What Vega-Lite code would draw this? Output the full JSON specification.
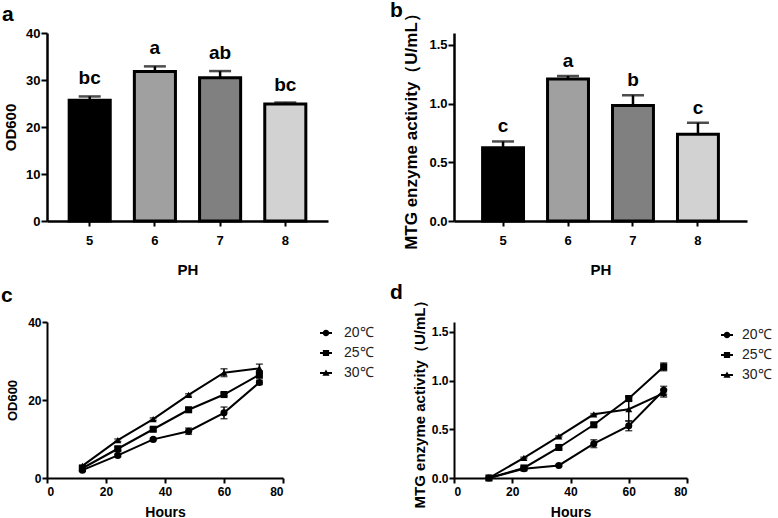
{
  "$schema": "https://vega.github.io/schema/vega-lite/v6.json",
  "padding": {"left": 1, "top": -1, "right": 0, "bottom": 0},
  "background": "white",
  "bounds": "flush",
  "align": "all",
  "columns": 2,
  "spacing": {"row": 101, "column": 114},
  "resolve": {"scale": {"shape": "independent"}, "legend": {"shape": "independent"}},
  "config": {
    "font": "Liberation Sans",
    "view": {"stroke": null},
    "axis": {
      "domainColor": "black", "tickColor": "black", "labelColor": "black", "titleColor": "black",
      "labelFont": "Liberation Sans", "titleFont": "Liberation Sans",
      "labelFontWeight": "bold", "titleFontWeight": "bold", "grid": false
    },
    "title": {"font": "Liberation Sans", "fontWeight": "bold", "color": "black"}
  },
  "datasets": {
    "od": [
      {"ph": "5", "v": 25.7, "hi": 26.5, "letter": "bc"},
      {"ph": "6", "v": 31.8, "hi": 32.9, "letter": "a"},
      {"ph": "7", "v": 30.5, "hi": 31.9, "letter": "ab"},
      {"ph": "8", "v": 24.9, "hi": 25.2, "letter": "bc"}
    ],
    "mtg": [
      {"ph": "5", "v": 0.624, "hi": 0.677, "letter": "c"},
      {"ph": "6", "v": 1.208, "hi": 1.234, "letter": "a"},
      {"ph": "7", "v": 0.982, "hi": 1.07, "letter": "b"},
      {"ph": "8", "v": 0.738, "hi": 0.836, "letter": "c"}
    ],
    "growth": [
      {"h": 12, "t": "20℃", "v": 2.0, "lo": 1.7, "hi": 2.3},
      {"h": 24, "t": "20℃", "v": 5.8, "lo": 5.5, "hi": 6.1},
      {"h": 36, "t": "20℃", "v": 9.9, "lo": 9.6, "hi": 10.2},
      {"h": 48, "t": "20℃", "v": 12.0, "lo": 11.2, "hi": 12.8},
      {"h": 60, "t": "20℃", "v": 16.7, "lo": 15.2, "hi": 18.2},
      {"h": 72, "t": "20℃", "v": 24.5, "lo": 24.0, "hi": 25.0},
      {"h": 12, "t": "25℃", "v": 2.5, "lo": 2.2, "hi": 2.8},
      {"h": 24, "t": "25℃", "v": 7.5, "lo": 7.1, "hi": 7.9},
      {"h": 36, "t": "25℃", "v": 12.5, "lo": 12.1, "hi": 12.9},
      {"h": 48, "t": "25℃", "v": 17.5, "lo": 17.1, "hi": 17.9},
      {"h": 60, "t": "25℃", "v": 21.4, "lo": 21.0, "hi": 21.8},
      {"h": 72, "t": "25℃", "v": 26.5, "lo": 25.5, "hi": 27.5},
      {"h": 12, "t": "30℃", "v": 3.1, "lo": 2.9, "hi": 3.3},
      {"h": 24, "t": "30℃", "v": 9.7, "lo": 9.4, "hi": 10.0},
      {"h": 36, "t": "30℃", "v": 15.1, "lo": 14.8, "hi": 15.4},
      {"h": 48, "t": "30℃", "v": 21.3, "lo": 21.0, "hi": 21.6},
      {"h": 60, "t": "30℃", "v": 27.0, "lo": 26.0, "hi": 28.0},
      {"h": 72, "t": "30℃", "v": 28.1, "lo": 27.0, "hi": 29.2}
    ],
    "activity": [
      {"h": 12, "t": "20℃", "v": 0.0, "lo": 0.0, "hi": 0.0},
      {"h": 24, "t": "20℃", "v": 0.094, "lo": 0.084, "hi": 0.104},
      {"h": 36, "t": "20℃", "v": 0.129, "lo": 0.119, "hi": 0.139},
      {"h": 48, "t": "20℃", "v": 0.352, "lo": 0.312, "hi": 0.392},
      {"h": 60, "t": "20℃", "v": 0.535, "lo": 0.485, "hi": 0.585},
      {"h": 72, "t": "20℃", "v": 0.9, "lo": 0.86, "hi": 0.94},
      {"h": 12, "t": "25℃", "v": 0.0, "lo": 0.0, "hi": 0.0},
      {"h": 24, "t": "25℃", "v": 0.103, "lo": 0.088, "hi": 0.118},
      {"h": 36, "t": "25℃", "v": 0.313, "lo": 0.298, "hi": 0.328},
      {"h": 48, "t": "25℃", "v": 0.546, "lo": 0.531, "hi": 0.561},
      {"h": 60, "t": "25℃", "v": 0.815, "lo": 0.795, "hi": 0.835},
      {"h": 72, "t": "25℃", "v": 1.14, "lo": 1.1, "hi": 1.18},
      {"h": 12, "t": "30℃", "v": 0.0, "lo": 0.0, "hi": 0.0},
      {"h": 24, "t": "30℃", "v": 0.207, "lo": 0.2, "hi": 0.214},
      {"h": 36, "t": "30℃", "v": 0.427, "lo": 0.42, "hi": 0.434},
      {"h": 48, "t": "30℃", "v": 0.653, "lo": 0.645, "hi": 0.661},
      {"h": 60, "t": "30℃", "v": 0.705, "lo": 0.585, "hi": 0.825},
      {"h": 72, "t": "30℃", "v": 0.87, "lo": 0.83, "hi": 0.91}
    ]
  },
  "concat": [
    {
      "width": 281, "height": 188,
      "title": {"text": "a", "anchor": "start", "frame": "group", "dx": -45, "fontSize": 21, "offset": 2},
      "data": {"name": "od"},
      "encoding": {
        "x": {"field": "ph", "type": "nominal", "sort": null,
          "scale": {"paddingInner": 0.37, "paddingOuter": 0.34},
          "axis": {"title": "PH", "labelAngle": 0, "labelFontSize": 13, "titleFontSize": 15, "domainWidth": 2.5, "tickWidth": 2, "tickSize": 5, "labelPadding": 8, "titlePadding": 15}}
      },
      "layer": [
        {"mark": {"type": "bar", "stroke": "black", "strokeWidth": 3},
         "encoding": {
           "y": {"field": "v", "type": "quantitative", "scale": {"domain": [0, 40]},
             "axis": {"title": "OD600", "values": [0, 10, 20, 30, 40], "labelFontSize": 13, "titleFontSize": 15, "domainWidth": 2.5, "tickWidth": 2, "tickSize": 6, "labelPadding": 1, "titlePadding": 7}},
           "color": {"field": "ph", "type": "nominal", "scale": {"domain": ["5", "6", "7", "8"], "range": ["#000000", "#a0a0a0", "#808080", "#d2d2d2"]}, "legend": null}
         }},
        {"mark": {"type": "rule", "color": "black", "strokeWidth": 2.5},
         "encoding": {"y": {"field": "v", "type": "quantitative"}, "y2": {"field": "hi"}}},
        {"mark": {"type": "tick", "color": "black", "thickness": 2.5, "size": 22, "orient": "horizontal"},
         "encoding": {"y": {"field": "hi", "type": "quantitative"}}},
        {"mark": {"type": "text", "fontSize": 19, "fontWeight": "bold", "baseline": "alphabetic", "dy": -12, "color": "black"},
         "encoding": {"y": {"field": "hi", "type": "quantitative"}, "text": {"field": "letter"}}}
      ]
    },
    {
      "width": 293, "height": 188,
      "title": {"text": "b", "anchor": "start", "frame": "group", "dx": -64, "dy": 24, "fontSize": 21, "offset": 8},
      "data": {"name": "mtg"},
      "encoding": {
        "x": {"field": "ph", "type": "nominal", "sort": null,
          "scale": {"paddingInner": 0.37, "paddingOuter": 0.44, "align": 0.5},
          "axis": {"title": "PH", "labelAngle": 0, "labelFontSize": 13, "titleFontSize": 15, "domainWidth": 2.5, "tickWidth": 2, "tickSize": 5, "labelPadding": 8, "titlePadding": 15}}
      },
      "layer": [
        {"mark": {"type": "bar", "stroke": "black", "strokeWidth": 3},
         "encoding": {
           "y": {"field": "v", "type": "quantitative", "scale": {"domain": [0, 1.5]},
             "axis": {"title": "MTG enzyme activity（U/mL）", "values": [0, 0.5, 1.0, 1.5], "format": ".1f", "labelFontSize": 13, "titleFontSize": 17, "domainWidth": 2.5, "tickWidth": 2, "tickSize": 6, "labelPadding": 1, "titlePadding": 8}},
           "color": {"field": "ph", "type": "nominal", "scale": {"domain": ["5", "6", "7", "8"], "range": ["#000000", "#a0a0a0", "#808080", "#d2d2d2"]}, "legend": null}
         }},
        {"mark": {"type": "rule", "color": "black", "strokeWidth": 2.5},
         "encoding": {"y": {"field": "v", "type": "quantitative"}, "y2": {"field": "hi"}}},
        {"mark": {"type": "tick", "color": "black", "thickness": 2.5, "size": 22, "orient": "horizontal"},
         "encoding": {"y": {"field": "hi", "type": "quantitative"}}},
        {"mark": {"type": "text", "fontSize": 19, "fontWeight": "bold", "baseline": "alphabetic", "dy": -9, "color": "black"},
         "encoding": {"y": {"field": "hi", "type": "quantitative"}, "text": {"field": "letter"}}}
      ]
    },
    {
      "width": 236, "height": 156,
      "title": {"text": "c", "anchor": "start", "frame": "group", "dx": -46, "fontSize": 21, "offset": 10},
      "data": {"name": "growth"},
      "resolve": {"scale": {"shape": "independent"}, "legend": {"shape": "independent"}},
      "encoding": {
        "x": {"field": "h", "type": "quantitative", "scale": {"domain": [0, 80]},
          "axis": {"title": "Hours", "values": [0, 20, 40, 60, 80], "labelFontSize": 12, "titleFontSize": 14, "domainWidth": 2, "tickWidth": 2, "tickSize": 5, "labelPadding": 3, "titlePadding": 8}}
      },
      "layer": [
        {"mark": {"type": "line", "color": "black", "strokeWidth": 2},
         "encoding": {"y": {"field": "v", "type": "quantitative", "scale": {"domain": [0, 40]},
             "axis": {"title": "OD600", "values": [0, 10, 20, 30, 40], "labelFontSize": 12, "titleFontSize": 13, "domainWidth": 2, "tickWidth": 2, "tickSize": 5, "labelPadding": 1, "titlePadding": 8}},
           "detail": {"field": "t"}}},
        {"mark": {"type": "rule", "color": "black", "strokeWidth": 1.5},
         "encoding": {"y": {"field": "lo", "type": "quantitative"}, "y2": {"field": "hi"}}},
        {"mark": {"type": "tick", "color": "black", "thickness": 1.5, "size": 7, "orient": "horizontal"},
         "encoding": {"y": {"field": "lo", "type": "quantitative"}}},
        {"mark": {"type": "tick", "color": "black", "thickness": 1.5, "size": 7, "orient": "horizontal"},
         "encoding": {"y": {"field": "hi", "type": "quantitative"}}},
        {"mark": {"type": "point", "filled": true, "color": "black", "opacity": 1, "size": 50},
         "encoding": {"y": {"field": "v", "type": "quantitative"},
           "shape": {"field": "t", "type": "nominal", "scale": {"domain": ["20℃", "25℃", "30℃"], "range": ["circle", "square", "triangle-up"]}, "legend": null}}},
        {"transform": [{"filter": "datum.h < 0"}],
         "mark": {"type": "point", "filled": true, "color": "black", "opacity": 1},
         "encoding": {"y": {"field": "v", "type": "quantitative"},
           "shape": {"field": "t", "type": "nominal",
             "scale": {"domain": ["20℃", "25℃", "30℃"], "range": ["M-1,-0.17H1V0.17H-1Z M0.55,0A0.55,0.55,0,1,1,-0.55,0A0.55,0.55,0,1,1,0.55,0Z", "M-1,-0.17H1V0.17H-1Z M-0.52,-0.52H0.52V0.52H-0.52Z", "M-1,-0.17H1V0.17H-1Z M0,-0.6L0.6,0.45H-0.6Z"]},
             "legend": {"title": null, "orient": "none", "legendX": 272, "legendY": 4, "symbolSize": 144, "symbolStrokeWidth": 0, "symbolFillColor": "black", "symbolOpacity": 1, "labelFontSize": 14, "labelFont": "Liberation Sans", "labelFontWeight": "normal", "labelColor": "#222222", "labelOffset": 11, "rowPadding": 6}}}}
      ]
    },
    {
      "width": 233, "height": 156,
      "title": {"text": "d", "anchor": "start", "frame": "group", "dx": -64, "dy": 20, "fontSize": 21, "offset": 9},
      "data": {"name": "activity"},
      "resolve": {"scale": {"shape": "independent"}, "legend": {"shape": "independent"}},
      "encoding": {
        "x": {"field": "h", "type": "quantitative", "scale": {"domain": [0, 80]},
          "axis": {"title": "Hours", "values": [0, 20, 40, 60, 80], "labelFontSize": 12, "titleFontSize": 14, "domainWidth": 2, "tickWidth": 2, "tickSize": 5, "labelPadding": 3, "titlePadding": 8}}
      },
      "layer": [
        {"mark": {"type": "line", "color": "black", "strokeWidth": 2},
         "encoding": {"y": {"field": "v", "type": "quantitative", "scale": {"domain": [0, 1.5]},
             "axis": {"title": "MTG enzyme activity（U/mL）", "values": [0, 0.5, 1.0, 1.5], "format": ".1f", "labelFontSize": 12, "titleFontSize": 15, "domainWidth": 2, "tickWidth": 2, "tickSize": 5, "labelPadding": 1, "titlePadding": 4}},
           "detail": {"field": "t"}}},
        {"mark": {"type": "rule", "color": "black", "strokeWidth": 1.5},
         "encoding": {"y": {"field": "lo", "type": "quantitative"}, "y2": {"field": "hi"}}},
        {"mark": {"type": "tick", "color": "black", "thickness": 1.5, "size": 7, "orient": "horizontal"},
         "encoding": {"y": {"field": "lo", "type": "quantitative"}}},
        {"mark": {"type": "tick", "color": "black", "thickness": 1.5, "size": 7, "orient": "horizontal"},
         "encoding": {"y": {"field": "hi", "type": "quantitative"}}},
        {"mark": {"type": "point", "filled": true, "color": "black", "opacity": 1, "size": 50},
         "encoding": {"y": {"field": "v", "type": "quantitative"},
           "shape": {"field": "t", "type": "nominal", "scale": {"domain": ["20℃", "25℃", "30℃"], "range": ["circle", "square", "triangle-up"]}, "legend": null}}},
        {"transform": [{"filter": "datum.h < 0"}],
         "mark": {"type": "point", "filled": true, "color": "black", "opacity": 1},
         "encoding": {"y": {"field": "v", "type": "quantitative"},
           "shape": {"field": "t", "type": "nominal",
             "scale": {"domain": ["20℃", "25℃", "30℃"], "range": ["M-1,-0.17H1V0.17H-1Z M0.55,0A0.55,0.55,0,1,1,-0.55,0A0.55,0.55,0,1,1,0.55,0Z", "M-1,-0.17H1V0.17H-1Z M-0.52,-0.52H0.52V0.52H-0.52Z", "M-1,-0.17H1V0.17H-1Z M0,-0.6L0.6,0.45H-0.6Z"]},
             "legend": {"title": null, "orient": "none", "legendX": 266, "legendY": 6, "symbolSize": 144, "symbolStrokeWidth": 0, "symbolFillColor": "black", "symbolOpacity": 1, "labelFontSize": 14, "labelFont": "Liberation Sans", "labelFontWeight": "normal", "labelColor": "#222222", "labelOffset": 8, "rowPadding": 6}}}}
      ]
    }
  ]
}
